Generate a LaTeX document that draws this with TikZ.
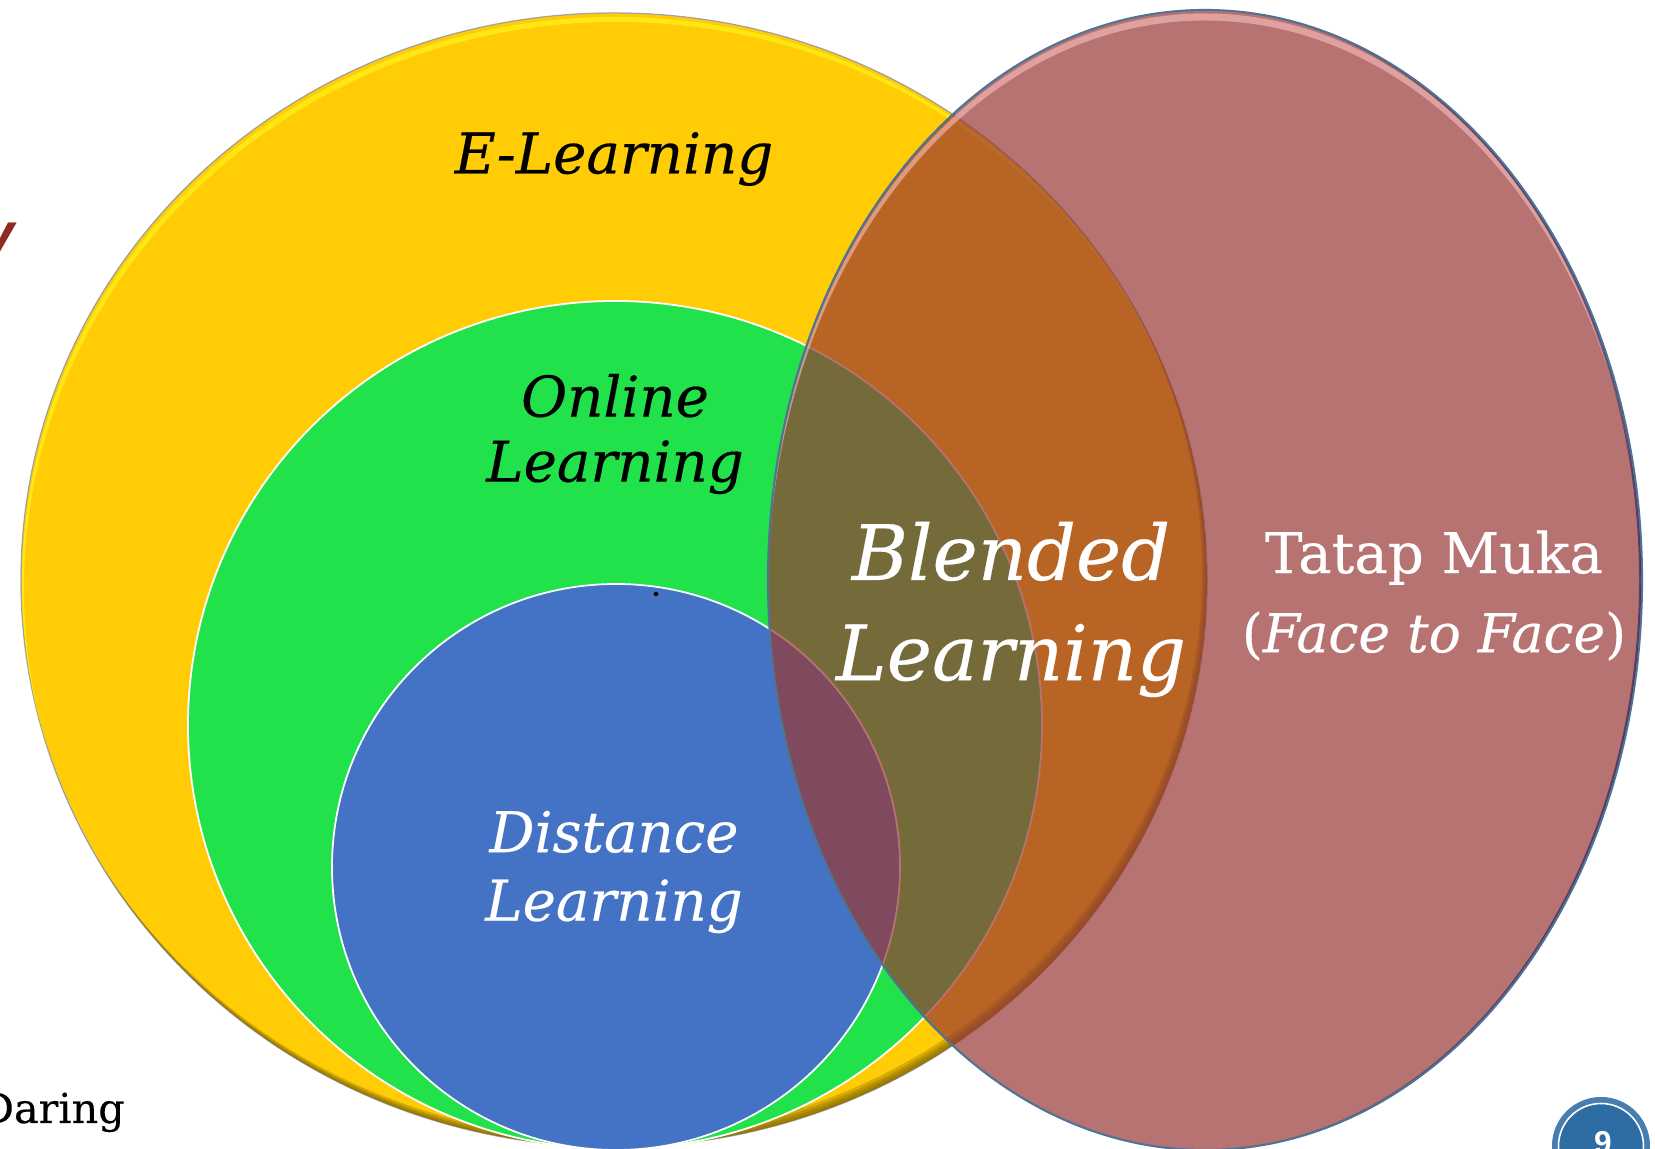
\documentclass[tikz,border=0pt]{standalone}
\usepackage{fontspec}
\setmainfont{DejaVu Serif}[UprightFeatures={FakeBold=.35},ItalicFeatures={FakeBold=.35}]
\setsansfont{Liberation Sans}
\usetikzlibrary{positioning}
\definecolor{elearnfill}{HTML}{FFCC05}
\definecolor{onlinefill}{HTML}{22E24B}
\definecolor{distancefill}{HTML}{4472C4}
\definecolor{facefill}{HTML}{993834}
\definecolor{faceline}{HTML}{4E7393}
\definecolor{facelight}{HTML}{FFC8C8}
\definecolor{badgefill}{HTML}{2E6DA4}
\tikzset{
  elearn size/.style={x radius=11.86,y radius=11.34},
  online size/.style={x radius=8.54,y radius=8.48},
  distance size/.style={x radius=5.68,y radius=5.66},
  face size/.style={x radius=8.74,y radius=11.40},
  circletext/.style={inner sep=0pt,align=center,text=#1},
  small label/.style={font=\fontsize{32}{37}\selectfont\itshape},
  big label/.style={font=\fontsize{43.5}{56}\selectfont\itshape},
}
\begin{document}
\begin{tikzpicture}
\useasboundingbox (0,0) rectangle (33.1,22.98);
\clip (0,0) rectangle (33.1,22.98);
% big circle with its bevel
\fill[elearnfill] (12.28,11.38) ellipse [elearn size];
\draw[black!30,line width=.8pt] (12.28,11.38) ellipse [elearn size];
\begin{scope}
\clip (12.28,11.38) ellipse [elearn size];
\fill[yellow!90!white,even odd rule,opacity=.7] (12.30,11.30) ellipse [elearn size] (12.34,11.20) ellipse [elearn size];
\foreach \d in {.04,.08,.12,.17}
  \fill[black!50!elearnfill,opacity=.32,even odd rule] (12.28,11.38) ellipse [elearn size] ({12.28-\d*.6},{11.38+\d}) ellipse [elearn size];
\end{scope}
% inner circles
\draw[white,fill=onlinefill,line width=1pt] (12.30,8.48) ellipse [online size];
\draw[white,fill=distancefill,line width=1pt] (12.32,5.64) ellipse [distance size];
\fill[black] (13.12,11.10) circle (.045);
% the see-through ellipse
\fill[facefill,opacity=.7] (24.10,11.38) ellipse [face size];
\begin{scope}
\clip (24.10,11.38) ellipse [face size];
\fill[facelight,opacity=.55,even odd rule] (24.10,11.31) ellipse [face size] (24.10,11.17) ellipse [face size];
\foreach \d in {.03,.06}
  \fill[black!70!blue,opacity=.45,even odd rule] (24.10,11.38) ellipse [face size] ({24.10-\d},11.38) ellipse [face size];
\end{scope}
\draw[faceline,line width=1.2pt] (24.10,11.38) ellipse [face size];
% labels
\node[circletext=black,small label] (elearninglabel) at (12.28,19.80) {E-Learning};
\node[circletext=black,small label] (onlinelabel) at (12.30,14.30) {Online\\Learning};
\node[circletext=white,small label,font=\fontsize{32}{39}\selectfont\itshape] (distancelabel) at (12.28,5.54) {Distance\\Learning};
\node[circletext=white,big label] (blendedlabel) at (20.22,10.79) {Blended\\[1pt]Learning};
\node[circletext=white,font=\fontsize{32}{45}\selectfont] (facelabel) at (28.68,11.07) {Tatap Muka\\{\fontsize{30.5}{45}\selectfont(\textit{Face to Face})}};
% cut off at the page edge
\node[anchor=base east,inner sep=0pt,font=\fontsize{23.5}{28}\selectfont] (daringlabel) at (2.50,.52) {Daring};
\node[anchor=north east,inner sep=0pt,text={rgb,255:red,143;green,43;blue,32},font=\fontsize{34}{40}\selectfont\sffamily\bfseries\itshape] (cutlabel) at (.30,18.53) {y};
% page number
\fill[badgefill] (32.02,.06) circle (.98);
\fill[white,opacity=.12] (32.02,.06) circle (.98);
\draw[white,line width=.9pt,fill=badgefill] (32.02,.06) circle (.85);
\node[text=white,inner sep=0pt,font=\fontsize{18}{22}\selectfont\sffamily\bfseries] (pagelabel) at (32.06,.12) {9};
\end{tikzpicture}
\end{document}
